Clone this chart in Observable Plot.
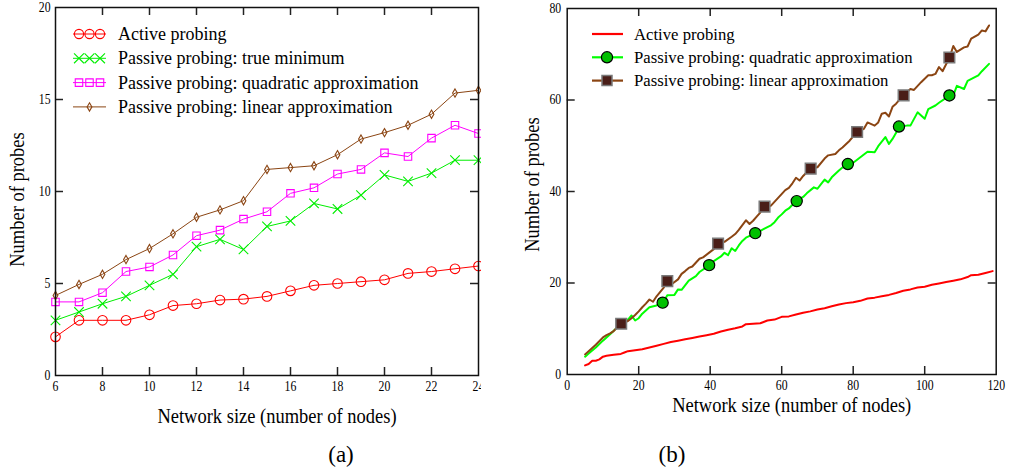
<!DOCTYPE html>
<html><head><meta charset="utf-8">
<script src="https://cdn.jsdelivr.net/npm/d3@7"></script>
<script src="https://cdn.jsdelivr.net/npm/@observablehq/plot@0.6"></script>
<style>
body{margin:0;background:#fff;}
#wrap{position:relative;width:1010px;height:470px;overflow:hidden;background:#fff;font-family:"Liberation Serif","Times New Roman",serif;}
#pa{position:absolute;left:0;top:0;width:481px;height:430px;overflow:hidden;}
#pb{position:absolute;left:500px;top:0;width:510px;height:430px;}
.cap{position:absolute;top:440px;width:100px;height:30px;line-height:30px;font-size:23px;text-align:center;color:#000;}
</style></head><body>
<div id="wrap"><div id="pa"></div><div id="pb"></div>
<div class="cap" style="left:291px">(a)</div><div class="cap" style="left:622px">(b)</div></div>
<script>
// ---------- Panel (a) data ----------
const sizesA   = [6,7,8,9,10,11,12,13,14,15,16,17,18,19,20,21,22,23,24];
const activeA  = [2.1,3.0,3.0,3.0,3.3,3.8,3.9,4.1,4.15,4.3,4.6,4.9,5.0,5.1,5.2,5.55,5.65,5.8,5.95];
const trueMinA = [3.0,3.45,3.9,4.3,4.9,5.5,7.0,7.4,6.85,8.1,8.4,9.35,9.05,9.8,10.9,10.55,11.0,11.7,11.7];
const quadA    = [4.0,4.0,4.5,5.65,5.9,6.55,7.6,7.9,8.5,8.9,9.9,10.2,10.95,11.2,12.1,11.9,12.9,13.6,13.15];
const linearA  = [4.35,4.95,5.5,6.3,6.9,7.7,8.6,9.0,9.5,11.2,11.3,11.4,12.0,12.85,13.2,13.6,14.2,15.35,15.5];
const xTicksA  = [6,8,10,12,14,16,18,20,22,24];
const yTicksA  = [0,5,10,15,20];
const legendA  = ["Active probing","Passive probing: true minimum","Passive probing: quadratic approximation","Passive probing: linear approximation"];

// ---------- Panel (b) data ----------
const activeBx = [5,6,7,8,9,10,11,13,15,16,17,19,21,23,25,27,29,31,33,35,37,39,41,43,45,47,49,50,52,54,56,58,60,62,64,66,68,70,72,74,76,78,80,82,84,86,88,90,92,94,96,98,100,102,104,106,108,110,112,113,115,117,119];
const activeBy = [2.0,2.3,3.0,3.0,3.3,3.9,4.1,4.3,4.5,4.8,5.1,5.3,5.5,5.9,6.3,6.7,7.1,7.4,7.7,8.0,8.3,8.6,8.9,9.4,9.8,10.1,10.5,11.0,11.1,11.2,11.8,12.0,12.6,12.7,13.1,13.5,13.8,14.2,14.5,14.9,15.3,15.6,15.8,16.1,16.6,16.8,17.1,17.4,17.8,18.3,18.6,19.0,19.2,19.6,19.9,20.2,20.5,20.8,21.3,21.7,21.8,22.2,22.6];
const quadBx = [5,6,8,10,12,14,16,17,18,19,20,21,23,25,27,28,30,31,32,34,36,37,40,41,43,44,45,46,47,48,49,50,53,54,56,57,58,59,60,61,62,64,66,67,69,70,71,72,73,74,76,78,80,82,83,84,86,87,89,90,91,93,95,96,98,100,101,103,104,107,108,109,111,112,115,116,118];
const quadBy = [3.9,4.6,5.9,7.4,8.8,10.3,11.4,12.0,12.9,11.8,12.3,13.3,14.7,15.1,15.9,17.3,17.4,18.6,18.5,20.5,21.5,22.4,24.0,24.8,25.8,26.6,26.1,27.6,27.0,28.2,29.2,29.9,31.0,31.4,32.2,32.6,33.3,34.3,35.0,35.8,36.3,37.9,38.8,39.6,40.9,40.6,41.6,42.6,42.0,43.1,44.6,45.9,46.3,47.5,48.1,48.7,48.6,49.9,51.9,50.4,51.5,54.2,54.4,54.4,57.3,55.9,58.0,58.8,59.4,61.0,61.0,63.1,62.4,64.2,65.4,66.3,67.9];
const linBx = [5,6,8,10,11,12,13,15,17,18,19,20,21,22,23,24,25,27,28,29,31,32,33,34,35,37,38,40,41,42,44,46,47,48,50,51,52,53,54,55,57,59,61,62,63,64,65,66,68,70,72,73,75,76,77,79,81,83,84,86,87,88,89,90,91,92,94,96,97,99,101,102,103,104,105,107,108,109,111,112,113,115,116,117,118];
const linBy = [4.4,5.1,6.5,8.1,8.6,9.0,9.5,11.1,11.7,12.3,13.0,13.8,14.7,15.5,16.4,15.9,17.1,19.0,20.4,19.6,20.8,22.0,22.6,23.3,23.6,25.3,25.6,26.8,27.4,28.6,29.0,30.1,30.7,31.6,33.7,32.9,33.6,34.5,35.4,36.7,36.9,38.6,40.3,40.8,41.8,43.0,42.4,43.4,45.0,45.3,47.2,47.9,48.2,49.0,49.6,51.1,53.0,53.7,55.1,54.4,55.1,57.0,57.2,56.4,58.5,59.2,61.0,62.4,62.2,63.9,65.4,65.4,65.7,67.2,66.3,69.4,71.8,70.5,71.5,71.7,73.4,74.3,75.2,75.0,76.3];
const quadMarkX = [26.7,39.7,52.6,64.2,78.5,92.8,106.9];
const quadMarkY = [15.7,23.9,30.9,37.9,46.0,54.2,61.0];
const linMarkX  = [15.1,28.0,42.2,55.2,68.1,81.1,94.1,106.9];
const linMarkY  = [11.1,20.4,28.6,36.7,45.0,53.0,61.0,69.3];
const xTicksB = [0,20,40,60,80,100,120];
const yTicksB = [0,20,40,60,80];
const legendB = ["Active probing","Passive probing: quadratic approximation","Passive probing: linear approximation"];

const xTitle = "Network size (number of nodes)";
const yTitle = "Number of probes";

const pairs = (xs, ys) => xs.map((x, i) => ({x, y: ys[i]}));
const FONT = "Liberation Serif, Times New Roman, serif";
const BROWN = "#8b4513";

function innerTicks(xt, yt, fw, fh, len) {
  const xi = xt.slice(1, -1), yi = yt.slice(1, -1);
  const s = {stroke: "#222", strokeWidth: 1.5};
  return [
    Plot.tickX(xi, {x: d => d, insetTop: fh - len, ...s}),
    Plot.tickX(xi, {x: d => d, insetBottom: fh - len, ...s}),
    Plot.tickY(yi, {y: d => d, insetRight: fw - len, ...s}),
    Plot.tickY(yi, {y: d => d, insetLeft: fw - len, ...s})
  ];
}
const titleOpts = {fontSize: 22, fill: "#000", textAnchor: "middle", lineAnchor: "middle"};

// ---------- Panel (a) ----------
const A = {w: 481, h: 430, ml: 55, mr: 3, mt: 7, mb: 55};
const fwA = A.w - A.ml - A.mr, fhA = A.h - A.mt - A.mb;
const plotA = Plot.plot({
  width: A.w, height: A.h,
  marginLeft: A.ml, marginRight: A.mr, marginTop: A.mt, marginBottom: A.mb,
  style: {fontFamily: FONT, fontSize: "14px", color: "#000", background: "#fff"},
  x: {domain: [6, 24]},
  y: {domain: [0, 20]},
  marks: [
    Plot.axisX({ticks: xTicksA, tickSize: 0, tickPadding: 6, label: null}),
    Plot.axisY({ticks: yTicksA, tickSize: 0, tickPadding: 5, label: null}),
    ...innerTicks(xTicksA, yTicksA, fwA, fhA, 8),
    Plot.line(pairs(sizesA, activeA), {x: "x", y: "y", stroke: "#ff0000", strokeWidth: 1}),
    Plot.dot(pairs(sizesA, activeA), {x: "x", y: "y", symbol: "circle", r: 4.8, stroke: "#ff0000", fill: "none", strokeWidth: 1.1}),
    Plot.line(pairs(sizesA, trueMinA), {x: "x", y: "y", stroke: "#00ee00", strokeWidth: 1}),
    Plot.dot(pairs(sizesA, trueMinA), {x: "x", y: "y", symbol: "times", r: 4.4, stroke: "#00ee00", fill: "none", strokeWidth: 1.1}),
    Plot.line(pairs(sizesA, quadA), {x: "x", y: "y", stroke: "#ff00ff", strokeWidth: 1}),
    Plot.dot(pairs(sizesA, quadA), {x: "x", y: "y", symbol: "square", r: 4.2, stroke: "#ff00ff", fill: "none", strokeWidth: 1.1}),
    Plot.line(pairs(sizesA, linearA), {x: "x", y: "y", stroke: BROWN, strokeWidth: 1}),
    Plot.dot(pairs(sizesA, linearA), {x: "x", y: "y", symbol: "diamond", r: 2.5, stroke: BROWN, fill: "none", strokeWidth: 1.1}),
    Plot.frame({stroke: "#111", strokeWidth: 1.5}),
    Plot.text([xTitle], {frameAnchor: "bottom", dx: 10, dy: 40, ...titleOpts}),
    Plot.text([yTitle], {frameAnchor: "left", rotate: -90, dx: -39, dy: 8, ...titleOpts})
  ]
});
document.getElementById("pa").appendChild(plotA);

// ---------- Panel (b) ----------
const B = {w: 510, h: 430, ml: 66.7, mr: 14.3, mt: 8, mb: 56};
const fwB = B.w - B.ml - B.mr, fhB = B.h - B.mt - B.mb;
const plotB = Plot.plot({
  width: B.w, height: B.h,
  marginLeft: B.ml, marginRight: B.mr, marginTop: B.mt, marginBottom: B.mb,
  style: {fontFamily: FONT, fontSize: "14px", color: "#000", background: "#fff"},
  x: {domain: [0, 120]},
  y: {domain: [0, 80]},
  marks: [
    Plot.axisX({ticks: xTicksB, tickSize: 0, tickPadding: 6, label: null}),
    Plot.axisY({ticks: yTicksB, tickSize: 0, tickPadding: 6, label: null}),
    ...innerTicks(xTicksB, yTicksB, fwB, fhB, 8),
    Plot.line(pairs(activeBx, activeBy), {x: "x", y: "y", stroke: "#ff0000", strokeWidth: 2}),
    Plot.line(pairs(quadBx, quadBy), {x: "x", y: "y", stroke: "#00ff00", strokeWidth: 2}),
    Plot.line(pairs(linBx, linBy), {x: "x", y: "y", stroke: BROWN, strokeWidth: 2}),
    Plot.dot(pairs(quadMarkX, quadMarkY), {x: "x", y: "y", symbol: "circle", r: 5.6, fill: "#00c000", stroke: "#000", strokeWidth: 1.2}),
    Plot.dot(pairs(linMarkX, linMarkY), {x: "x", y: "y", symbol: "square", r: 6.0, fill: "#4a1e18", stroke: "#7a7a7a", strokeWidth: 1.5}),
    Plot.frame({stroke: "#111", strokeWidth: 1.5}),
    Plot.text([xTitle], {frameAnchor: "bottom", dx: 10, dy: 30, ...titleOpts}),
    Plot.text([yTitle], {frameAnchor: "left", rotate: -90, dx: -35, dy: -7, ...titleOpts})
  ]
});
document.getElementById("pb").appendChild(plotB);

// ---------- condense text (narrow Times-like look) ----------
function condense(svg, factor) {
  d3.select(svg).selectAll("text").each(function () {
    const w = this.getComputedTextLength();
    if (w > 0) { this.setAttribute("textLength", w * factor); this.setAttribute("lengthAdjust", "spacingAndGlyphs"); }
  });
}
[plotA, plotB].forEach(svg => condense(svg, 0.84));

// ---------- legends ----------
function legendAdd(svg, rows, opts) {
  const g = d3.select(svg).append("g").attr("font-family", FONT).attr("font-size", opts.fontSize)
    .attr("fill", "#000").attr("text-anchor", "start");
  rows.forEach((row, i) => {
    const y = opts.y0 + i * opts.dyRow;
    g.append("line").attr("x1", opts.lx1).attr("x2", opts.lx2).attr("y1", y).attr("y2", y)
      .attr("stroke", row.color).attr("stroke-width", row.lw);
    (row.xs || []).forEach(x => {
      g.append("path").attr("d", d3.symbol(row.symbol, row.size)())
        .attr("transform", `translate(${x},${y})`)
        .attr("fill", row.fill).attr("stroke", row.stroke).attr("stroke-width", row.sw);
    });
    g.append("text").attr("x", opts.tx).attr("y", y).attr("dy", "0.34em").attr("text-anchor", "start").text(row.label);
  });
}
legendAdd(plotA, [
  {label: legendA[0], color: "#ff0000", lw: 1, symbol: d3.symbolCircle, size: 66, xs: [79, 89.5, 100], fill: "none", stroke: "#ff0000", sw: 1.1},
  {label: legendA[1], color: "#00ee00", lw: 1, symbol: d3.symbolTimes, size: 66, xs: [79, 89.5, 100], fill: "none", stroke: "#00ee00", sw: 1.1},
  {label: legendA[2], color: "#ff00ff", lw: 1, symbol: d3.symbolSquare, size: 56, xs: [79, 89.5, 100], fill: "none", stroke: "#ff00ff", sw: 1.1},
  {label: legendA[3], color: BROWN, lw: 1, symbol: d3.symbolDiamond, size: 20, xs: [89.5], fill: "none", stroke: BROWN, sw: 1.1}
], {y0: 34, dyRow: 24.3, lx1: 73, lx2: 106, tx: 118, fontSize: 18});
legendAdd(plotB, [
  {label: legendB[0], color: "#ff0000", lw: 2.2, xs: []},
  {label: legendB[1], color: "#00ff00", lw: 2.2, symbol: d3.symbolCircle, size: 98, xs: [107], fill: "#00c000", stroke: "#000", sw: 1.2},
  {label: legendB[2], color: BROWN, lw: 2.2, symbol: d3.symbolSquare, size: 100, xs: [107], fill: "#4a1e18", stroke: "#7a7a7a", sw: 1.5}
], {y0: 34, dyRow: 23.3, lx1: 92, lx2: 123, tx: 134, fontSize: 16.7});
</script>
</body></html>
